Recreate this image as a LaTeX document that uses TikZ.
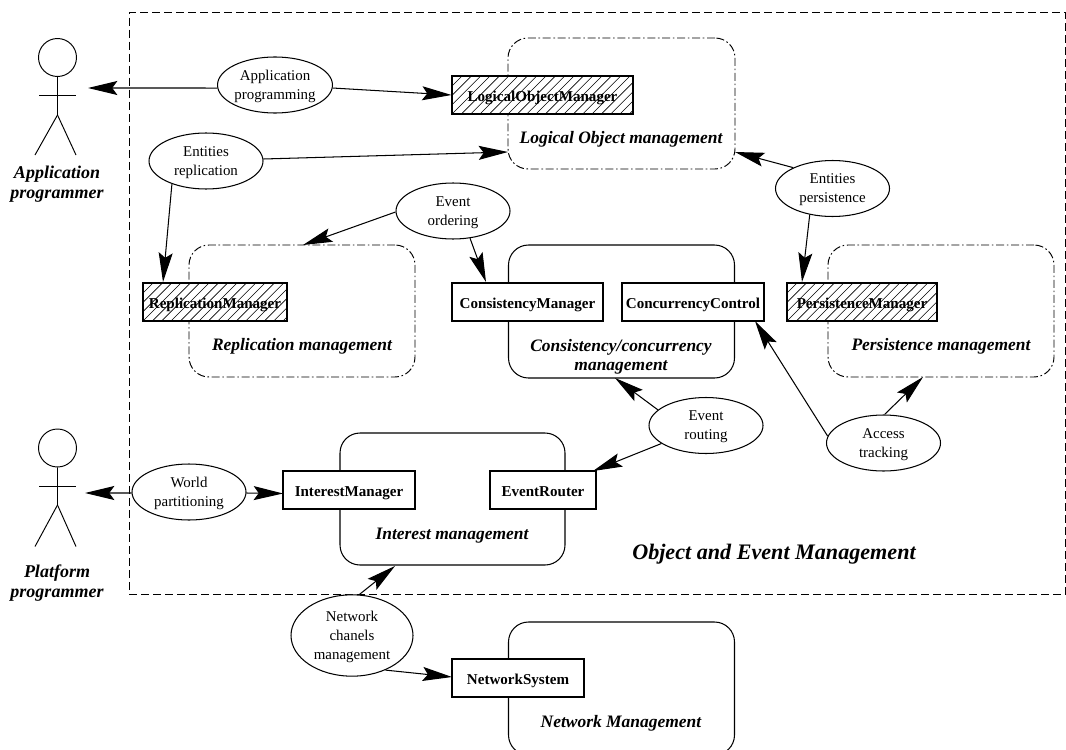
\documentclass[tikz,border=0pt]{standalone}
\usepackage{fontspec}
\setmainfont{Liberation Serif}
\usetikzlibrary{shapes.geometric,arrows.meta}
\newcommand{\upc}{\rule{0pt}{9.5pt}}
\newcommand{\upt}{\rule{0pt}{9.9pt}}
\tikzset{
  base/.style={line width=0.78pt,draw=black},
  conn/.style={line width=0.78pt,draw=black,-{Stealth[length=22pt,width=10.5pt,inset=3.8pt]}},
  usecase/.style={base,ellipse,fill=white,inner sep=0pt,minimum width=85.5pt,minimum height=42pt,align=center,font=\fontsize{11.2}{14.25}\selectfont},
  pkg/.style n args={2}{base,rectangle,rounded corners=15pt,minimum width=#1*0.75pt,minimum height=#2*0.75pt,inner sep=0pt},
  dashdot/.style={dash pattern=on 6pt off 2pt on 1.2pt off 2pt,line width=0.72pt},
  cls/.style n args={2}{base,rectangle,fill=white,minimum width=#1*0.75pt,minimum height=#2*0.75pt,inner sep=0pt,text height=12.2pt,text depth=2.4pt,font=\fontsize{11.3}{14}\selectfont\bfseries},
  hatched/.style={path picture={
    \foreach \i in {-35,-28,...,140}
      \draw[line width=0.45pt] ([xshift=\i pt]path picture bounding box.south west) -- ++(35pt,35pt);
  }},
  title/.style={font=\fontsize{13.1}{14.25}\selectfont\bfseries\itshape,align=center,inner sep=0pt},
  actortitle/.style={font=\fontsize{13.5}{15}\selectfont\bfseries\itshape,align=center,inner sep=0pt},
  limb/.style={line width=0.72pt,draw=black},
}
\begin{document}
\begin{tikzpicture}[x=0.75pt,y=-0.75pt]
\useasboundingbox (0,0) rectangle (1066,749);
% frame
\node[draw=black,line width=0.72pt,dash pattern=on 6pt off 3pt,rectangle,inner sep=0pt,minimum width=936*0.75pt,minimum height=582.5*0.75pt] (frame) at (597,303.5) {};
% packages
\node[pkg={227}{131},dashdot] (logical) at (621.5,103.5) {};
\node[pkg={226}{132},dashdot] (replication) at (302,311) {};
\node[pkg={226}{133}] (consistency) at (621.5,311.5) {};
\node[pkg={226}{132},dashdot] (persistence) at (941,311) {};
\node[pkg={225}{132}] (interest) at (452.5,499) {};
\node[pkg={226}{133}] (network) at (621.5,688.5) {};
% classes
\node[cls={181}{38},hatched] (lom) at (542.5,95) {LogicalObjectManager};
\node[cls={144}{38},hatched] (rm) at (215,302) {ReplicationManager};
\node[cls={151}{38}] (cm) at (527.5,302) {ConsistencyManager};
\node[cls={142}{38}] (cc) at (693,302) {ConcurrencyControl};
\node[cls={150}{38},hatched] (pm) at (862,302) {PersistenceManager};
\node[cls={132}{38}] (im) at (349,490) {InterestManager};
\node[cls={106}{38}] (er) at (543,490) {EventRouter};
\node[cls={132}{38}] (ns) at (518,678) {NetworkSystem};
% titles
\node[title,anchor=base] (t1) at (621,143) {Logical Object management};
\node[title,anchor=base] (t2) at (302,350) {Replication management};
\node[title] (t3) at (621,356) {\upt Consistency/concurrency\\management};
\node[title,anchor=base] (t4) at (941,350) {Persistence management};
\node[title,anchor=base] (t5) at (452,539) {Interest management};
\node[title,anchor=base] (t6) at (621,727) {Network Management};
\node[title,anchor=base,font=\fontsize{16.6}{18}\selectfont\bfseries\itshape] (t7) at (774,559) {Object and Event Management};
% use cases
\node[usecase] (app) at (275,85) {\upc Application\\programming};
\node[usecase] (rep) at (206,161) {\upc Entities\\replication};
\node[usecase] (ord) at (453,211) {\upc Event\\ordering};
\node[usecase] (per) at (832.5,188.5) {\upc Entities\\persistence};
\node[usecase] (rou) at (706,425.5) {\upc Event\\routing};
\node[usecase] (acc) at (883.5,443) {\upc Access\\tracking};
\node[usecase] (wor) at (189,492) {\upc World\\partitioning};
\node[usecase,minimum height=61pt,minimum width=91.5pt] (net) at (352,635.5) {\upc Network\\chanels\\management};
% actors
\node[limb,circle,inner sep=0pt,minimum size=28.5pt] (h1) at (57.5,57.5) {};
\coordinate (hip1) at (57.5,115);
\coordinate (hand1) at (88,88);
\draw[limb] (h1) -- (hip1) -- (35,155);
\draw[limb] (hip1) -- (76,155);
\draw[limb] (39,95) -- (76,95);
\node[actortitle] (a1) at (57,183.5) {\upt Application\\programmer};
\node[limb,circle,inner sep=0pt,minimum size=28.5pt] (h2) at (57.5,448) {};
\coordinate (hip2) at (57.5,505);
\coordinate (hand2) at (85,493);
\draw[limb] (h2) -- (hip2) -- (35,546.5);
\draw[limb] (hip2) -- (76,546.5);
\draw[limb] (39,486) -- (76,486);
\node[actortitle] (a2) at (57,582.5) {\upt Platform\\programmer};
% connector ends
\coordinate (logw) at (508,152);
\coordinate (loge) at (735,152);
\coordinate (rmt) at (163,282);
\coordinate (rept) at (303,245);
\coordinate (cmt) at (486,282);
\coordinate (pmt) at (802,282);
\coordinate (conb) at (615,378);
\coordinate (ert) at (593,471);
\coordinate (ccb) at (755,321);
\coordinate (perb) at (923,377);
\coordinate (intb) at (395,566);
\coordinate (nsw) at (452,677);
\coordinate (imw) at (283,493.5);
% connectors
\draw[conn] (app.183) -- (hand1);
\draw[conn] (app.357) -- (lom.west);
\draw[conn] (rep.2) -- (logw);
\draw[conn] (rep.214) -- (rmt);
\draw[conn] (ord.181) -- (rept);
\draw[conn] (ord.-58) -- (cmt);
\draw[conn] (per.152) -- (loge);
\draw[conn] (per.229) -- (pmt);
\draw[conn] (rou.162) -- (conb);
\draw[conn] (rou.202) -- (ert);
\draw[conn] (acc.173) -- (ccb);
\draw[conn] (acc.88) -- (perb);
\draw[conn] (wor.181) -- (hand2);
\draw[conn] (wor.-1) -- (imw);
\draw[conn] (net.80) -- (intb);
\draw[conn] (net.-46) -- (nsw);
\end{tikzpicture}
\end{document}
